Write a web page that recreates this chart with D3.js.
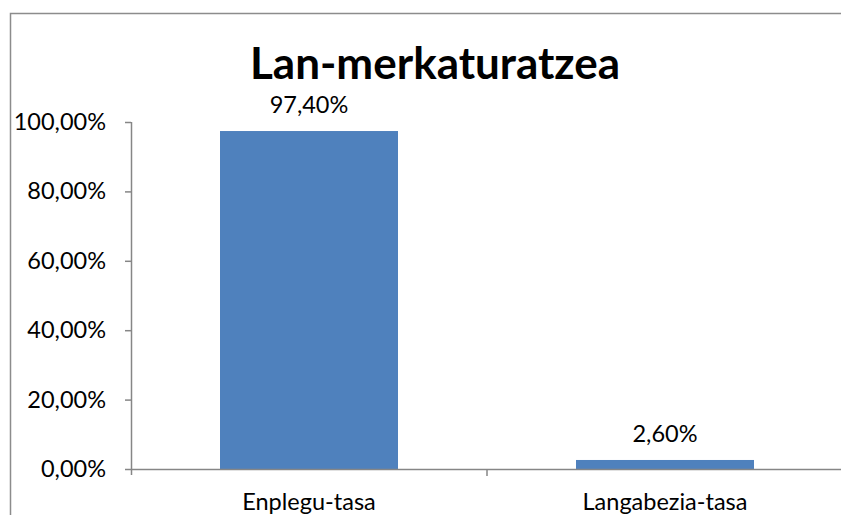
<!DOCTYPE html>
<html>
<head>
<meta charset="utf-8">
<script src="https://cdn.jsdelivr.net/npm/d3@7"></script>
<style>
  body { margin: 0; background: #fff; }
  svg { display: block; font-family: Lato, "Open Sans", sans-serif; }
</style>
</head>
<body>
<script>
const categories = ["Enplegu-tasa", "Langabezia-tasa"];
const values = [0.974, 0.026];
const yTicks = [0, 0.2, 0.4, 0.6, 0.8, 1.0];
const title = "Lan-merkaturatzea";

const width = 841, height = 515;
const plotLeft = 131, plotRight = 843, plotTop = 122, plotBottom = 469;
const labelSize = "23.5px";

const fmt = (d) => d3.format(".2%")(d).replace(".", ",");

const svg = d3.select("body").append("svg")
  .attr("width", width)
  .attr("height", height);

// outer chart border (runs off the right and bottom)
svg.append("rect")
  .attr("x", 10.5).attr("y", 13.5)
  .attr("width", 900).attr("height", 600)
  .attr("fill", "none")
  .attr("stroke", "#8c8c8c")
  .attr("stroke-width", 1.5);

svg.append("text")
  .attr("x", 435).attr("y", 79)
  .attr("text-anchor", "middle")
  .style("font-size", "44px")
  .style("font-weight", "bold")
  .text(title);

const x = d3.scaleBand().domain(categories).range([plotLeft, plotRight]).padding(0);
const y = d3.scaleLinear().domain([0, 1]).range([plotBottom, plotTop]);

const barW = x.bandwidth() * 0.5;

// bars
svg.selectAll(".bar")
  .data(values)
  .enter()
  .append("rect")
    .attr("class", "bar")
    .attr("x", (d, i) => x(categories[i]) + (x.bandwidth() - barW) / 2)
    .attr("y", (d) => y(d))
    .attr("width", barW)
    .attr("height", (d) => plotBottom - y(d))
    .attr("fill", "#4f81bd");

// value labels
svg.selectAll(".val")
  .data(values)
  .enter()
  .append("text")
    .attr("class", "val")
    .attr("x", (d, i) => x(categories[i]) + x.bandwidth() / 2)
    .attr("y", (d) => y(d) - 18)
    .attr("text-anchor", "middle")
    .style("font-size", labelSize)
    .text(fmt);

// y axis
const yAxis = d3.axisLeft(y)
  .tickValues(yTicks)
  .tickFormat(fmt)
  .tickSize(6)
  .tickPadding(19)
  .tickSizeOuter(0);

const gy = svg.append("g")
  .attr("transform", `translate(${plotLeft},0)`)
  .call(yAxis);
gy.select(".domain").attr("stroke", "#868686").attr("stroke-width", 1.5)
  .attr("d", `M0.5,${plotTop}V${plotBottom + 6}`);
gy.selectAll(".tick line").attr("stroke", "#868686").attr("stroke-width", 1.5);
gy.selectAll(".tick text").style("font-size", labelSize).attr("fill", "#000")
  .style("font-family", "Lato, 'Open Sans', sans-serif");

// x axis
const xAxis = d3.axisBottom(x).tickSize(0).tickPadding(24).tickSizeOuter(0);
const gx = svg.append("g")
  .attr("transform", `translate(0,${plotBottom})`)
  .call(xAxis);
gx.select(".domain").attr("stroke", "#868686").attr("stroke-width", 1.5);
gx.selectAll(".tick text").style("font-size", labelSize).attr("fill", "#000")
  .style("font-family", "Lato, 'Open Sans', sans-serif");

// category separator ticks
gx.selectAll(".sep")
  .data(categories.slice(1))
  .enter()
  .append("line")
    .attr("class", "sep")
    .attr("x1", (d) => x(d)).attr("x2", (d) => x(d))
    .attr("y1", 0).attr("y2", 7)
    .attr("stroke", "#868686")
    .attr("stroke-width", 1.5);
</script>
</body>
</html>
